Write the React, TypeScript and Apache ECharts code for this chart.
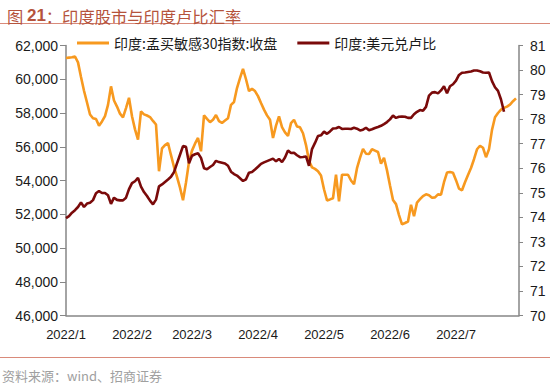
import React, { useEffect, useRef } from "react";
import * as echarts from "echarts";

// trading-day index along the horizontal axis (0 = first trading day shown)
const dayIndex: string[] = Array.from({ length: 152 }, (_, i) => String(i));

// month tick labels and the trading-day index on which each is shown
const tickLabels = ["2022/1", "2022/2", "2022/3", "2022/4", "2022/5", "2022/6", "2022/7"];
const tickIndex = [0, 22, 42, 64, 86, 108, 130];

const sensexName = "印度:孟买敏感30指数:收盘";
const rupeeName = "印度:美元兑卢比";

// BSE Sensex close (left axis)
const sensex: (number | null)[] = [
  61260, 61280, 61300, 61350, 61000, 60130, 59320, 58620, 57910, 57690,
  57640, 57250, 57500, 57820, 58480, 59580, 58740, 58380, 57960, 57740,
  58290, 58900, 57810, 57030, 56420, 58090, 57920, 57850, 57760, 57530,
  57320, 54550, 55900, 56100, 56220, 55500, 54800, 54210, 53580, 52830,
  53880, 55100, 55770, 56180, 56520, 55730, 57860, 57650, 57460, 57600,
  57880, 57520, 57410, 57550, 57690, 58480, 58650, 59480, 60070, 60620,
  60000, 59300, 59430, 59300, 59000, 58590, 58200, 57860, 57600, 56520,
  57250, 57800, 57160, 56850, 56640, 57400, 57600, 57200, 57150, 56800,
  56100, 55170, 54780, 54690, 54550, 54300, 53480, 52820, 52880, 52950,
  54340, 52770, 54340, 54340, 54340, 54000, 53780, 54730, 55340, 55870,
  55590, 55570, 55850, 55770, 55690, 55000, 55350, 54600, 53700, 52850,
  52600, 51950, 51400, 51480, 51570, 52560, 51880, 52690, 52890, 53080,
  53180, 53120, 52980, 53000, 53180, 53160, 53900, 54470, 54500, 54460,
  54020, 53520, 53420, 53900, 54330, 54740, 55260, 55850, 56060, 55940,
  55380, 55850, 57000, 57750, 58000, 58200, 58300, 58380, 58500, 58700,
  58870, null,
];

// USD/INR (right axis)
const rupee: (number | null)[] = [
  73.97, 74.05, 74.19, 74.29, 74.42, 74.61, 74.42, 74.56, 74.59, 74.7,
  74.98, 75.07, 74.99, 74.99, 74.9, 74.55, 74.8, 74.71, 74.69, 74.69,
  74.8, 75.15, 75.39, 75.47, 75.61, 75.25, 75.03, 74.87, 74.68, 74.53,
  74.72, 75.26, 75.34, 75.44, 75.54, 75.65, 75.84, 76.2, 76.55, 76.9,
  76.87, 76.2, 76.51, 76.57, 76.61, 76.42, 76.0, 75.96, 76.05, 76.13,
  76.3, 76.25, 76.22, 76.19, 76.1, 75.86, 75.76, 75.7, 75.59, 75.48,
  75.55, 75.82, 75.85, 75.95, 76.06, 76.18, 76.24, 76.29, 76.34, 76.39,
  76.28, 76.38, 76.25, 76.44, 76.72, 76.62, 76.63, 76.53, 76.45, 76.46,
  76.48, 76.1, 76.78, 77.03, 77.31, 77.34, 77.49, 77.4, 77.5, 77.62,
  77.63, 77.68, 77.6, 77.61, 77.61, 77.6, 77.65, 77.61, 77.54, 77.57,
  77.65, 77.55, 77.59, 77.64, 77.68, 77.73, 77.8, 77.88, 77.99, 78.15,
  78.05, 78.1, 78.11, 78.1, 78.05, 78.05, 78.2, 78.3, 78.37, 78.34,
  78.5, 78.96, 79.08, 79.1, 79.05, 79.17, 79.34, 79.05, 79.34, 79.42,
  79.57, 79.8, 79.89, 79.9, 79.92, 79.94, 79.98, 79.98, 79.95, 79.9,
  79.89, 79.9, 79.55, 79.3, 79.15, 78.8, 78.3, null, null, null,
  null, null,
];

const ORANGE = "#f7991f";
const MAROON = "#7a0a0a";
const AXIS = "#868686";
const TEXT = "#1a1a1a";
const TITLE = "#b5533c";
const RULE = "#d98a7a";
const CJK = "'Noto Sans CJK SC', sans-serif";
const LATIN = "'Liberation Sans', Arial, sans-serif";

export default function App() {
  const ref = useRef<HTMLDivElement>(null);

  useEffect(() => {
    if (!ref.current) return;
    const chart = echarts.init(ref.current, undefined, { renderer: "svg" });
    chart.setOption({
      animation: false,
      backgroundColor: "#ffffff",
      title: {
        text: "{a|图 }{b|21}{a|：印度股市与印度卢比汇率}",
        left: 2,
        top: 2,
        textStyle: {
          rich: {
            a: { fontSize: 16.3, color: TITLE, fontFamily: CJK, fontWeight: "normal" },
            b: { fontSize: 17, color: TITLE, fontFamily: LATIN, fontWeight: "bold" },
          },
        },
      },
      legend: {
        left: 72,
        top: 31,
        icon: "rect",
        itemWidth: 32,
        itemHeight: 3,
        itemGap: 20,
        textStyle: { fontSize: 14, color: TEXT, fontFamily: CJK },
        data: [sensexName, rupeeName],
      },
      grid: {
        left: 66,
        right: 31,
        top: 45.5,
        bottom: 69.5,
        containLabel: false,
        outerBoundsMode: "none",
      },
      xAxis: {
        type: "category",
        data: dayIndex,
        boundaryGap: false,
        axisLine: { lineStyle: { color: AXIS, width: 1.5 } },
        axisTick: { show: false },
        axisLabel: {
          interval: (index: number) => tickIndex.includes(index),
          formatter: (_v: string, index: number) => {
            const k = tickIndex.indexOf(index);
            return k >= 0 ? tickLabels[k] : "";
          },
          margin: 12,
          fontSize: 13,
          color: TEXT,
          fontFamily: LATIN,
        },
        splitLine: { show: false },
      },
      yAxis: [
        {
          type: "value",
          min: 46000,
          max: 62000,
          interval: 2000,
          position: "left",
          axisLine: { show: true, lineStyle: { color: AXIS, width: 1.5 } },
          axisTick: { show: true, length: 6, lineStyle: { color: AXIS } },
          axisLabel: {
            margin: 8,
            fontSize: 14,
            color: TEXT,
            fontFamily: LATIN,
            formatter: (v: number) => v.toLocaleString("en-US"),
          },
          splitLine: { show: false },
        },
        {
          type: "value",
          min: 70,
          max: 81,
          interval: 1,
          position: "right",
          axisLine: { show: true, lineStyle: { color: AXIS, width: 1.5 } },
          axisTick: { show: true, length: 4, lineStyle: { color: AXIS } },
          axisLabel: {
            margin: 11,
            fontSize: 14,
            color: TEXT,
            fontFamily: LATIN,
          },
          splitLine: { show: false },
        },
      ],
      series: [
        {
          name: sensexName,
          type: "line",
          yAxisIndex: 0,
          data: sensex,
          showSymbol: false,
          symbol: "none",
          lineStyle: { color: ORANGE, width: 2.6 },
          itemStyle: { color: ORANGE },
          connectNulls: false,
        },
        {
          name: rupeeName,
          type: "line",
          yAxisIndex: 1,
          data: rupee,
          showSymbol: false,
          symbol: "none",
          lineStyle: { color: MAROON, width: 2.6 },
          itemStyle: { color: MAROON },
          connectNulls: false,
        },
      ],
      graphic: [
        {
          type: "line",
          shape: { x1: 0, y1: 23.5, x2: 550, y2: 23.5 },
          style: { stroke: RULE, lineWidth: 1 },
        },
        {
          type: "line",
          shape: { x1: 0, y1: 357.5, x2: 550, y2: 357.5 },
          style: { stroke: RULE, lineWidth: 1 },
        },
        {
          type: "text",
          left: 2,
          top: 369,
          style: {
            text: "资料来源：wind、招商证券",
            fill: "#a0a0a0",
            fontSize: 13,
            fontFamily: CJK,
          },
        },
      ],
    });
    return () => chart.dispose();
  }, []);

  return (
    <div
      ref={ref}
      style={{ position: "fixed", left: 0, top: 0, width: 550, height: 385, background: "#fff" }}
    />
  );
}
